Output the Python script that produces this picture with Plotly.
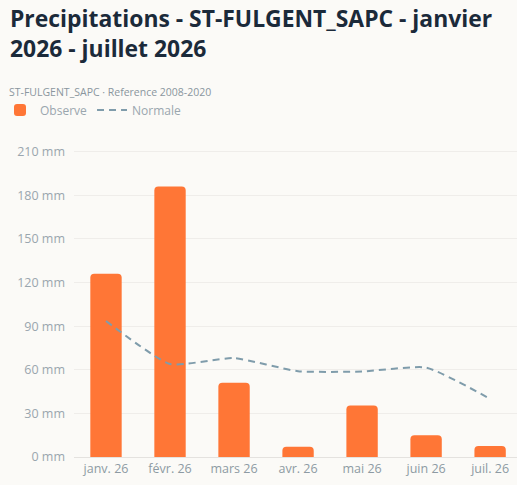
import plotly.graph_objects as go

months = ["janv. 26", "févr. 26", "mars 26", "avr. 26", "mai 26", "juin 26", "juil. 26"]
observe = [126, 186, 51, 7, 35.5, 15, 7.5]
normale = [93.5, 64, 68, 59, 58.8, 61.5, 40]
y_ticks = [0, 30, 60, 90, 120, 150, 180, 210]
y_tick_labels = [f"{v} mm" for v in y_ticks]

title_text = "Precipitations - ST-FULGENT_SAPC - janvier<br>2026 - juillet 2026"
subtitle_text = "ST-FULGENT_SAPC · Reference 2008-2020"

BG = "#fbfaf7"
FONT = "Open Sans, Segoe UI, sans-serif"

W, H = 517, 485
M_L, M_R, M_T, M_B = 74, 0, 139.5, 28
PH = H - M_T - M_B


def py(pixel_y):
    return (H - M_B - pixel_y) / PH


fig = go.Figure()
fig.add_trace(go.Bar(
    x=months, y=observe, name="Observe",
    marker=dict(color="#ff7636", line=dict(width=0)),
    width=0.49,
))
fig.add_trace(go.Scatter(
    x=months, y=normale, name="Normale", mode="lines",
    line=dict(color="#7f9cab", width=2, dash="7px,5px", shape="spline", smoothing=0.5),
))

fig.update_layout(
    width=W, height=H,
    paper_bgcolor=BG, plot_bgcolor=BG,
    margin=dict(l=M_L, r=M_R, t=M_T, b=M_B, autoexpand=False),
    barcornerradius=4,
    font=dict(family=FONT, color="#9aa6ae", size=12),
    showlegend=True,
    legend=dict(
        orientation="h", xref="container", x=-0.028, xanchor="left",
        yref="container", y=1 - 110 / H, yanchor="middle",
        font=dict(size=12, color="#9aa6ae"), bgcolor="rgba(0,0,0,0)",
        itemwidth=30, tracegroupgap=0,
    ),
    annotations=[
        dict(
            text=title_text, xref="paper", yref="paper", x=-(M_L - 8) / (W - M_L - M_R),
            y=py(0), xanchor="left", yanchor="top", align="left", showarrow=False,
            font=dict(family=FONT, size=22.9, color="#1b2a3a", weight="bold"),
        ),
        dict(
            text=subtitle_text, xref="paper", yref="paper", x=-(M_L - 7) / (W - M_L - M_R),
            y=py(91), xanchor="left", yanchor="middle", showarrow=False,
            font=dict(size=10.5, color="#8a969e", family=FONT),
        ),
    ],
    xaxis=dict(
        type="category", range=[-0.5, 6.42], showgrid=False,
        showline=True, linecolor="#e4e2df", linewidth=1,
        ticks="", tickfont=dict(size=12.5, color="#8d9aa3"), fixedrange=True,
    ),
    yaxis=dict(
        range=[0, 218], tickvals=y_ticks, ticktext=y_tick_labels,
        showgrid=True, gridcolor="#efedea", gridwidth=1, zeroline=False,
        showline=False, ticks="", ticklabelstandoff=8, automargin=False,
        tickfont=dict(size=12.5, color="#9aa6ae"),
    ),
)

fig.write_html(
    "out.html",
    config={"displayModeBar": False},
    post_script="document.body.style.margin='0';document.body.style.overflow='hidden';",
)
